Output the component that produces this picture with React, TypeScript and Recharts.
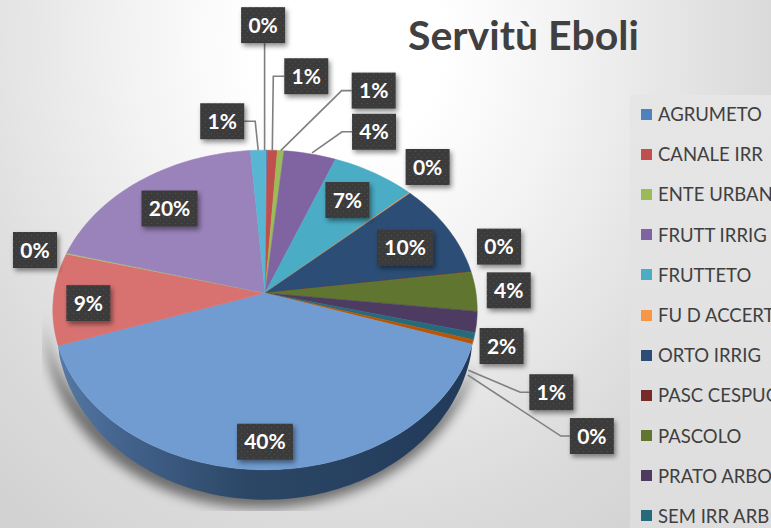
import { PieChart, Pie, Legend } from "recharts";

const categories = [
  "AGRUMETO", "CANALE IRR", "ENTE URBANO", "FRUTT IRRIG", "FRUTTETO", "FU D ACCERT",
  "ORTO IRRIG", "PASC CESPUG", "PASCOLO", "PRATO ARBOR", "SEM IRR ARB",
  "CAT 12", "CAT 13", "CAT 14", "CAT 15", "CAT 16", "CAT 17",
];
const shares = [0.1, 0.85, 0.55, 4.4, 7.1, 0.1, 9.6, 0.05, 4.0, 2.1, 0.7, 0.45, 39.7, 9.3, 0.1, 19.6, 1.3];
const colors = [
  "#4F81BD", "#C0504D", "#9BBB59", "#8064A2", "#4BACC6", "#F79646",
  "#2C4D75", "#772C2A", "#5F7530", "#4D3B62", "#276A7C", "#B65708",
  "#709CD2", "#D87270", "#AFC97A", "#9A82BA", "#58B6D2",
];
const visibleLegendRows = 11;

const rows = categories.map((name, i) => ({ name, value: shares[i], fill: colors[i] }));

// label box offset from the outer point of each slice
const labelOffsets = [
  [-3.5, -125], [34, -74], [93, -60], [64, -22], [-27, 27], [18, -26], [-42.5, 19], [28, -25], [33, -1],
  [25, 24], [77, 56], [119, 94], [-1, -28], [35, 4.5], [-31.5, -3.5], [29, 28], [-36, -29],
];
// which labels get a leader line: start shift from the slice edge, elbow gap from the box
const leaders: Record<number, { shift: [number, number]; gap: number }> = {
  0: { shift: [-2, 0], gap: 0 },
  1: { shift: [0, 0], gap: 11 },
  2: { shift: [0, 0], gap: 10 },
  3: { shift: [2, -1], gap: 10 },
  10: { shift: [-6, 34], gap: 9 },
  11: { shift: [-5, 33], gap: 9 },
  16: { shift: [0, 0], gap: 11 },
};

const WIDTH = 771;
const HEIGHT = 528;
const TILT_Y = 158 / 211;
const PERSPECTIVE = 0.106;
const DEPTH = 30;

// flat pie angle -> point on the tilted disc
function project(cx: number, cy: number, r: number, angle: number) {
  const a = (angle * Math.PI) / 180;
  const u = Math.cos(a);
  const v = Math.sin(a);
  const w = 1 + PERSPECTIVE * v;
  return { x: cx + (r * u) / w, y: cy - (r * TILT_Y * v) / w };
}

function arcPoints(cx: number, cy: number, r: number, from: number, to: number) {
  const steps = Math.max(2, Math.ceil(Math.abs(to - from) / 1.5));
  const pts = [];
  for (let i = 0; i <= steps; i++) {
    pts.push(project(cx, cy, r, from + ((to - from) * i) / steps));
  }
  return pts;
}

const toPath = (pts: { x: number; y: number }[]) =>
  pts.map((p, i) => `${i ? "L" : "M"}${p.x.toFixed(1)},${p.y.toFixed(1)}`).join(" ");

// rim under the arc, tapering to nothing at both ends
function rimPath(arc: { x: number; y: number }[], depth: number) {
  const lower = arc.map((p, i) => {
    const t = i / (arc.length - 1);
    return { x: p.x, y: p.y + depth * Math.pow(Math.sin(Math.PI * t), 0.45) };
  });
  return toPath([...arc, ...lower.reverse()]) + " Z";
}

const TiltedSlice = (props: any) => {
  const { cx, cy, outerRadius, startAngle, endAngle, fill, name } = props;
  const arc = arcPoints(cx, cy, outerRadius, startAngle, endAngle);
  const top = `M${cx},${cy} ${toPath(arc).replace("M", "L")} Z`;
  const isFront = name === categories[12];
  return (
    <g>
      {isFront && (
        <g clipPath="url(#shadowClip)">
          <path
            d={rimPath(arcPoints(cx, cy, outerRadius + 8, startAngle - 6, endAngle - 14), DEPTH + 2)}
            fill="#000"
            fillOpacity={0.5}
            filter="url(#softBlur)"
          />
        </g>
      )}
      {isFront && <path d={rimPath(arc, DEPTH)} fill="url(#sideFill)" />}
      <path d={top} fill={fill} stroke={fill} strokeWidth={0.5} />
    </g>
  );
};

const SliceLabel = (props: any) => {
  const { cx, cy, outerRadius, midAngle, index, value } = props;
  const anchor = project(cx, cy, outerRadius, midAngle);
  const [dx, dy] = labelOffsets[index];
  const lx = anchor.x + dx;
  const ly = anchor.y + dy;
  const text = `${Math.round(value)}%`;
  const w = text.length > 2 ? 56 : 44;
  const h = 36;
  const leader = leaders[index];
  let line = null;
  if (leader) {
    const sx = anchor.x + leader.shift[0];
    const sy = anchor.y + leader.shift[1];
    const boxEdge = lx > sx ? lx - w / 2 : lx + w / 2;
    const pts =
      leader.gap === 0
        ? `${sx},${sy} ${sx},${ly + h / 2}`
        : `${sx},${sy} ${boxEdge + (lx > sx ? -leader.gap : leader.gap)},${ly} ${boxEdge},${ly}`;
    line = <polyline points={pts} fill="none" stroke="#7f7f7f" strokeWidth={1.6} />;
  }
  return (
    <g>
      {line}
      <rect x={lx - w / 2} y={ly - h / 2} width={w} height={h} fill="url(#labelDots)" filter="url(#boxShadow)" />
      <text
        x={lx}
        y={ly + 7.5}
        textAnchor="middle"
        fontFamily="Lato, sans-serif"
        fontWeight={700}
        fontSize={21}
        fill="#ffffff"
      >
        {text}
      </text>
    </g>
  );
};

const LegendRows = ({ payload }: any) => {
  const items = categories.slice(0, visibleLegendRows).map((name) => (payload || []).find((p: any) => p.value === name));
  return (
    <div>
      {items.filter(Boolean).map((entry: any) => (
        <div key={entry.value} style={{ height: 40.2, display: "flex", alignItems: "center", whiteSpace: "nowrap" }}>
          <span style={{ width: 11, height: 11, marginRight: 6, background: entry.color, flex: "none" }} />
          <span style={{ fontFamily: "Lato, sans-serif", fontSize: 18.5, color: "#404040" }}>{entry.value}</span>
        </div>
      ))}
    </div>
  );
};

export default function App() {
  return (
    <div
      style={{
        position: "absolute",
        left: 0,
        top: 0,
        width: WIDTH,
        height: HEIGHT,
        overflow: "hidden",
        background:
          "radial-gradient(ellipse 62% 105% at 45% 8%, #ffffff 20%, #f3f3f3 45%, #dcdcdc 85%, #d2d2d2 110%)",
      }}
    >
      <div
        style={{
          position: "absolute",
          left: 630,
          top: 95,
          width: 141,
          height: 433,
          background: "linear-gradient(180deg, #e6e6e6, #e2e2e2 50%, #dddddd)",
        }}
      />
      <div
        style={{
          position: "absolute",
          left: 408,
          top: 10,
          fontFamily: "Lato, sans-serif",
          fontWeight: 700,
          fontSize: 41,
          color: "#404040",
          whiteSpace: "nowrap",
        }}
      >
        Servitù Eboli
      </div>
      <PieChart width={WIDTH} height={HEIGHT} margin={{ top: 0, right: 0, bottom: 0, left: 0 }} style={{ position: "absolute", left: 0, top: 0 }}>
        <defs>
          <pattern id="labelDots" width="6" height="6" patternUnits="userSpaceOnUse">
            <rect width="6" height="6" fill="#3b3b3b" />
            <circle cx="1.5" cy="1.5" r="0.6" fill="#565656" />
            <circle cx="4.5" cy="4.5" r="0.6" fill="#4c4c4c" />
          </pattern>
          <linearGradient id="sideFill" x1="0" y1="0" x2="1" y2="0">
            <stop offset="0%" stopColor="#557aa5" />
            <stop offset="15%" stopColor="#44648e" />
            <stop offset="45%" stopColor="#2c4766" />
            <stop offset="100%" stopColor="#223a5a" />
          </linearGradient>
          <filter id="boxShadow" x="-30%" y="-30%" width="170%" height="170%">
            <feDropShadow dx="2" dy="3" stdDeviation="2.5" floodColor="#000" floodOpacity="0.45" />
          </filter>
          <filter id="softBlur" x="-15%" y="-15%" width="130%" height="130%">
            <feGaussianBlur stdDeviation="6" />
          </filter>
          <clipPath id="shadowClip">
            <rect x={42} y={0} width={WIDTH - 42} height={511} />
          </clipPath>
        </defs>
        <Pie
          data={rows}
          dataKey="value"
          nameKey="name"
          cx={265}
          cy={293}
          innerRadius={0}
          outerRadius={211}
          startAngle={89.7}
          endAngle={-270.3}
          paddingAngle={0}
          stroke="none"
          shape={TiltedSlice}
          label={SliceLabel}
          labelLine={false}
          isAnimationActive={false}
        />
        <Legend
          layout="vertical"
          align="right"
          verticalAlign="top"
          content={<LegendRows />}
          wrapperStyle={{ left: 641, top: 94, width: 180, right: "auto" }}
        />
      </PieChart>
    </div>
  );
}
